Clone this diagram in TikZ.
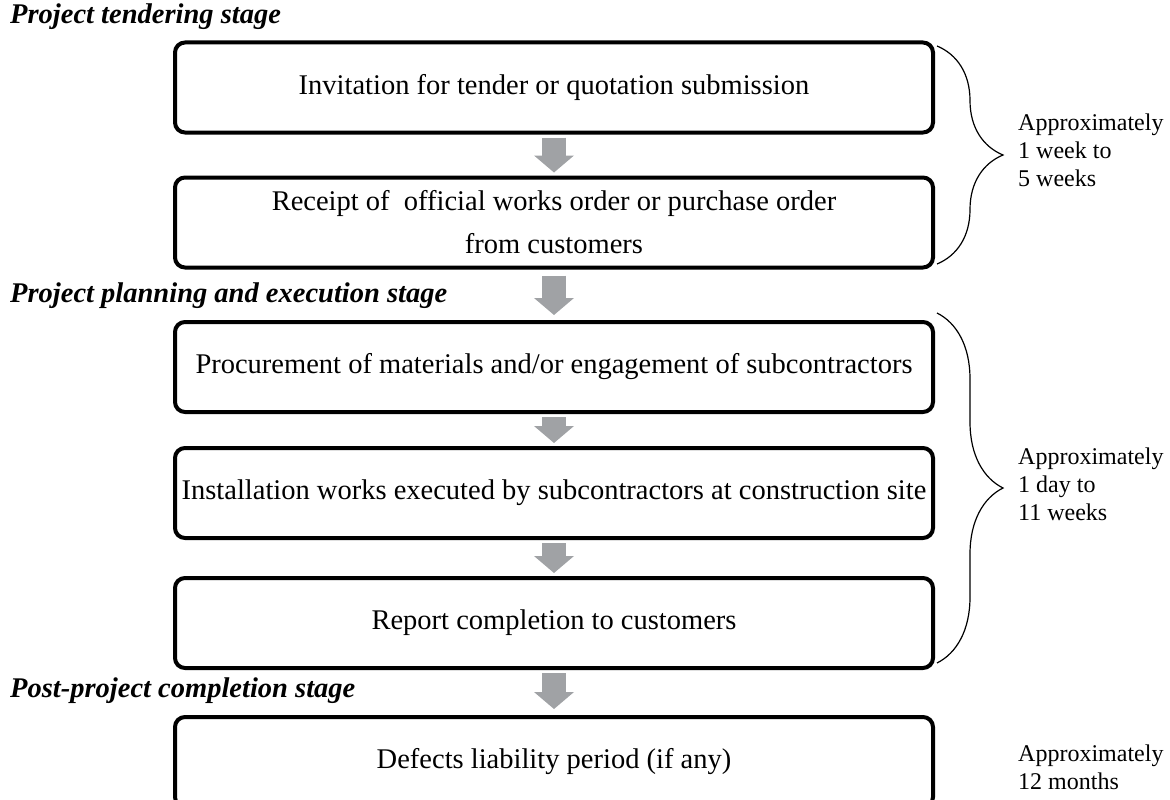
\documentclass[tikz,border=0pt]{standalone}
\usepackage{fontspec}
\setmainfont{Liberation Serif}
\usetikzlibrary{arrows.meta,decorations.pathreplacing}

\definecolor{arrowgray}{RGB}{160,162,165}

\tikzset{
  stepbox/.style={draw, line width=4pt, rounded corners=10pt,
    minimum width=758pt, minimum height=90pt, inner sep=0pt,
    align=center, font=\fontsize{28.5}{34}\selectfont},
  stagelabel/.style={anchor=base west, inner sep=0pt,
    font=\fontsize{28.5}{34}\selectfont\bfseries\itshape},
  timelabel/.style={anchor=north west, align=left, inner sep=0pt,
    font=\fontsize{24}{28}\selectfont},
  flowarrow/.style={arrowgray, line width=24pt,
    -{Triangle[width=40pt,length=17pt,line width=0pt]},
    shorten <=3pt, shorten >=3pt},
  curly/.style={decorate, decoration={brace, amplitude=66pt}, line width=1.2pt}
}

\begin{document}
\begin{tikzpicture}[x=1pt, y=-1pt]
	\clip (0,0) rectangle (1170,800);
	% stage headings
	\node[stagelabel] (tender) at (10,24) {Project tendering stage};
	\node[stagelabel] (plan) at (10,302) {Project planning and execution stage};
	\node[stagelabel] (post) at (10,697) {Post-project completion stage};
	% steps
	\node[stepbox] (invite) at (554,87.5) {Invitation for tender or quotation submission};
	\node[stepbox] (order) at (554,222.5) {Receipt of~ official works order or purchase order\\[9pt] from customers};
	\node[stepbox] (procure) at (554,367) {Procurement of materials and/or engagement of subcontractors};
	\node[stepbox] (install) at (554,493) {Installation works executed by subcontractors at construction site};
	\node[stepbox] (report) at (554,623) {Report completion to customers};
	\node[stepbox] (defects) at (554,762) {Defects liability period (if any)};
	% arrows
	\draw[flowarrow] (invite) -- (order);
	\draw[flowarrow, shorten <=6pt, shorten >=5pt] (order) -- (procure);
	\draw[flowarrow] (procure) -- (install);
	\draw[flowarrow] (install) -- (report);
	\draw[flowarrow, shorten >=6pt] (report) -- (defects);
	% braces and durations
	\coordinate (b1top) at (937,46);
	\coordinate (b1bot) at (937,264);
	\coordinate (b2top) at (937,313);
	\coordinate (b2bot) at (937,663);
	\draw[curly] (b1top) -- (b1bot);
	\draw[curly] (b2top) -- (b2bot);
	\node[timelabel] (time1) at (1018,114) {Approximately\\1 week to\\5 weeks};
	\node[timelabel] (time2) at (1018,448) {Approximately\\1 day to\\11 weeks};
	\node[timelabel] (time3) at (1018,745) {Approximately\\12 months};
\end{tikzpicture}
\end{document}
